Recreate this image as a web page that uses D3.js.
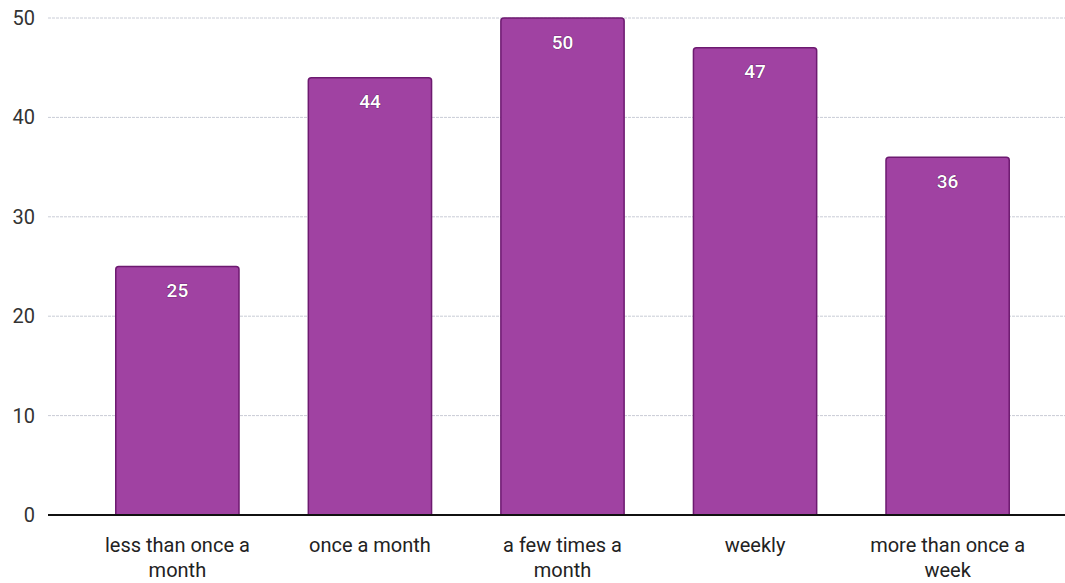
<!DOCTYPE html>
<html><head><meta charset="utf-8">
<script src="https://cdn.jsdelivr.net/npm/d3@7"></script>
<style>body{margin:0;background:#fff;}svg{display:block;font-family:Roboto,"Noto Sans",sans-serif;}</style>
</head><body>
<svg id="c" width="1065" height="583"></svg>
<script>
const categories = [["less than once a","month"],["once a month"],["a few times a","month"],["weekly"],["more than once a","week"]];
const values = [25, 44, 50, 47, 36];
const yTicks = [0, 10, 20, 30, 40, 50];

const svg = d3.select("#c");
const W = 1065;
const y = d3.scaleLinear().domain([0, 50]).range([515, 18]);
const x = d3.scaleBand().domain(d3.range(values.length)).range([58, 1067]).paddingInner(0.36).paddingOuter(0.3);

// gridlines
svg.append("g").selectAll("line").data(yTicks.filter(d => d > 0)).join("line")
  .attr("x1", 48).attr("x2", W).attr("y1", d => y(d)).attr("y2", d => y(d))
  .attr("stroke", "#c9ccd6").attr("stroke-width", 1).attr("stroke-dasharray", "3,1");

// y tick labels
svg.append("g").selectAll("text").data(yTicks).join("text")
  .attr("x", 35).attr("y", d => y(d)).attr("dy", "0.35em").attr("text-anchor", "end")
  .attr("font-size", 20).attr("fill", "#333").text(d => d);

// bars
const r = 3;
svg.append("g").selectAll("path").data(values).join("path")
  .attr("d", (d, i) => {
    const x0 = x(i), x1 = x(i) + x.bandwidth(), y0 = y(d), yb = y(0);
    return `M${x0},${yb}V${y0 + r}Q${x0},${y0} ${x0 + r},${y0}H${x1 - r}Q${x1},${y0} ${x1},${y0 + r}V${yb}Z`;
  })
  .attr("fill", "#a042a2").attr("stroke", "#6d1a70").attr("stroke-width", 1.5);

// value labels
svg.append("g").selectAll("text").data(values).join("text")
  .attr("x", (d, i) => x(i) + x.bandwidth() / 2).attr("y", d => y(d) + 24).attr("dy", "0.35em")
  .attr("text-anchor", "middle").attr("font-size", 19).attr("font-weight", 500)
  .attr("fill", "#fff").attr("stroke", "#4a1050").attr("stroke-width", 0.7).attr("paint-order", "stroke")
  .text(d => d);

// x axis line
svg.append("line").attr("x1", 48).attr("x2", W).attr("y1", y(0)).attr("y2", y(0))
  .attr("stroke", "#111").attr("stroke-width", 2);

// category labels
const cg = svg.append("g").selectAll("text").data(categories).join("text")
  .attr("text-anchor", "middle").attr("font-size", 20).attr("fill", "#222");
cg.each(function(lines, i) {
  d3.select(this).selectAll("tspan").data(lines).join("tspan")
    .attr("x", x(i) + x.bandwidth() / 2).attr("y", (l, j) => 552 + j * 25).text(l => l);
});
</script>
</body></html>
